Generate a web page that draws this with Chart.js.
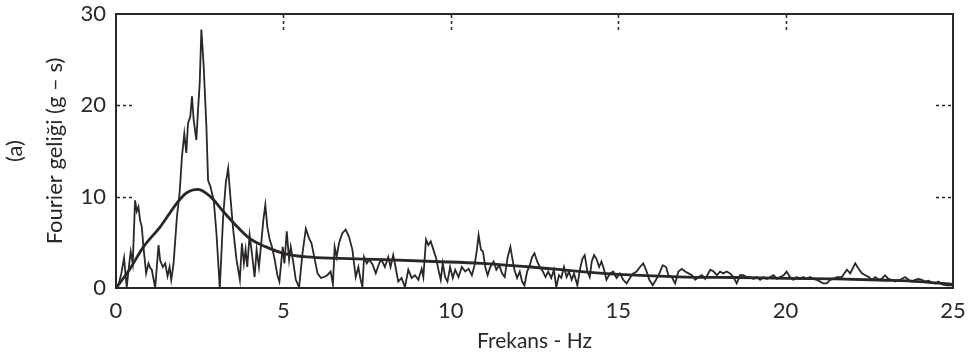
<!DOCTYPE html>
<html>
<head>
<meta charset="utf-8">
<script src="https://cdn.jsdelivr.net/npm/chart.js@4/dist/chart.umd.min.js"></script>
<style>
  html, body { margin: 0; padding: 0; background: #fff; }
  #chart { display: block; }
</style>
</head>
<body>
<canvas id="chart" width="971" height="358"></canvas>
<script>
'use strict';

// ─── Data ───────────────────────────────────────────────────────────────────
const spectrumHz = [
  0.00, 0.08, 0.16, 0.24, 0.32, 0.40, 0.44, 0.50, 0.57, 0.62, 0.67, 0.72, 0.77, 0.82, 0.90, 0.97,
  1.02, 1.07, 1.17, 1.27, 1.32, 1.40, 1.47, 1.54, 1.60, 1.65, 1.72, 1.82, 1.90, 1.97, 2.04, 2.10,
  2.15, 2.22, 2.27, 2.32, 2.40, 2.45, 2.50, 2.55, 2.62, 2.70, 2.75, 2.82, 2.92, 3.00, 3.10, 3.20,
  3.28, 3.35, 3.40, 3.50, 3.60, 3.70, 3.76, 3.82, 3.87, 3.92, 3.99, 4.06, 4.14, 4.20, 4.27, 4.32,
  4.40, 4.46, 4.52, 4.59, 4.66, 4.74, 4.82, 4.88, 4.98, 5.03, 5.10, 5.17, 5.22, 5.30, 5.37, 5.47,
  5.57, 5.67, 5.77, 5.84, 5.92, 6.02, 6.12, 6.21, 6.31, 6.41, 6.48, 6.53, 6.59, 6.66, 6.76, 6.86,
  6.96, 7.06, 7.16, 7.24, 7.29, 7.36, 7.41, 7.49, 7.56, 7.66, 7.76, 7.86, 7.93, 8.03, 8.13, 8.20,
  8.28, 8.35, 8.43, 8.53, 8.63, 8.73, 8.83, 8.93, 9.03, 9.13, 9.18, 9.26, 9.33, 9.40, 9.48, 9.56,
  9.63, 9.70, 9.76, 9.83, 9.90, 9.98, 10.06, 10.13, 10.23, 10.33, 10.43, 10.53, 10.63, 10.71, 10.78, 10.83,
  10.90, 10.96, 11.03, 11.10, 11.18, 11.28, 11.36, 11.45, 11.53, 11.61, 11.70, 11.78, 11.83, 11.90, 11.98, 12.06,
  12.13, 12.20, 12.28, 12.36, 12.43, 12.50, 12.58, 12.66, 12.75, 12.83, 12.91, 13.00, 13.08, 13.15, 13.23, 13.30,
  13.38, 13.46, 13.53, 13.61, 13.68, 13.78, 13.86, 13.93, 14.00, 14.08, 14.15, 14.21, 14.28, 14.35, 14.43, 14.50,
  14.57, 14.65, 14.76, 14.85, 14.95, 15.05, 15.15, 15.25, 15.35, 15.45, 15.55, 15.65, 15.75, 15.83, 15.93, 16.03,
  16.13, 16.23, 16.33, 16.43, 16.50, 16.60, 16.70, 16.80, 16.90, 17.00, 17.10, 17.20, 17.30, 17.40, 17.50, 17.60,
  17.75, 17.85, 17.95, 18.04, 18.14, 18.24, 18.34, 18.44, 18.54, 18.64, 18.74, 18.84, 18.94, 19.04, 19.14, 19.24,
  19.34, 19.44, 19.54, 19.64, 19.74, 19.84, 19.94, 20.03, 20.13, 20.23, 20.33, 20.43, 20.53, 20.63, 20.73, 20.83,
  20.93, 21.03, 21.13, 21.23, 21.33, 21.43, 21.53, 21.68, 21.83, 21.93, 22.08, 22.18, 22.28, 22.38, 22.48, 22.58,
  22.68, 22.78, 22.87, 22.97, 23.07, 23.17, 23.27, 23.42, 23.57, 23.67, 23.77, 23.87, 23.97, 24.07, 24.17, 24.27,
  24.37, 24.47, 24.57, 24.67, 24.82, 24.97
];
const spectrumAmp = [
  0.0, 0.4, 1.6, 3.3, 0.1, 2.8, 4.0, 2.7, 9.6, 8.4, 8.9, 7.4, 6.7, 4.5, 1.6, 2.7,
  2.2, 2.0, 0.0, 4.7, 3.0, 2.3, 2.7, 1.3, 2.3, 0.9, 2.7, 7.8, 10.4, 14.4, 16.9, 14.8,
  18.0, 18.8, 21.0, 18.4, 16.2, 19.5, 22.4, 28.3, 24.2, 17.7, 11.8, 11.1, 9.6, 6.0, 0.0, 7.8,
  11.5, 13.1, 10.7, 6.4, 3.1, 0.9, 4.9, 2.7, 4.2, 2.3, 5.8, 3.8, 1.2, 4.2, 2.3, 4.2,
  7.4, 9.1, 6.7, 5.3, 4.5, 3.1, 1.4, 0.7, 4.5, 2.7, 6.2, 3.1, 4.5, 2.7, 0.9, 0.1,
  3.8, 6.5, 5.4, 4.9, 3.4, 1.6, 1.1, 1.2, 1.4, 1.8, 0.4, 4.5, 3.4, 4.9, 6.0, 6.4,
  5.6, 4.2, 1.2, 2.3, 1.2, 0.1, 3.4, 2.7, 3.1, 2.6, 1.6, 2.7, 3.1, 2.3, 3.4, 2.3,
  3.6, 2.3, 0.7, 1.1, 0.1, 2.0, 1.1, 1.4, 0.9, 2.1, 1.2, 5.3, 4.7, 5.1, 4.2, 3.3,
  2.0, 0.9, 2.7, 1.2, 0.7, 2.3, 1.1, 2.0, 1.2, 2.3, 1.8, 2.1, 1.4, 2.5, 4.2, 5.8,
  4.2, 4.0, 2.3, 1.4, 2.3, 2.9, 2.0, 2.5, 1.6, 1.2, 3.4, 4.5, 3.4, 2.0, 1.1, 1.8,
  0.7, 0.3, 1.8, 2.5, 3.4, 3.8, 2.9, 2.3, 1.8, 1.2, 1.8, 1.1, 2.0, 0.1, 1.4, 1.1,
  2.3, 1.2, 1.8, 0.9, 1.6, 0.3, 2.1, 3.2, 3.6, 1.8, 1.2, 2.9, 3.6, 3.2, 2.3, 2.9,
  2.1, 0.9, 1.6, 1.8, 1.1, 1.6, 0.9, 0.5, 1.1, 1.6, 1.8, 2.3, 2.7, 2.0, 0.9, 0.3,
  0.9, 1.6, 2.5, 2.3, 1.4, 1.2, 0.5, 1.8, 2.1, 1.8, 1.6, 1.4, 0.9, 1.2, 1.4, 1.0,
  2.0, 1.8, 1.4, 1.8, 1.6, 1.8, 1.6, 1.2, 0.5, 1.4, 1.4, 1.2, 1.2, 1.0, 1.2, 0.9,
  1.2, 1.0, 1.2, 1.4, 1.0, 1.2, 1.4, 1.8, 1.2, 0.9, 1.2, 1.0, 1.2, 1.0, 1.2, 1.0,
  0.9, 0.7, 0.5, 0.5, 0.9, 1.0, 1.2, 1.2, 2.0, 1.6, 2.7, 2.1, 1.6, 1.4, 1.2, 0.9,
  1.2, 0.9, 1.0, 1.4, 1.0, 0.9, 0.7, 0.9, 1.2, 0.9, 0.7, 0.9, 1.0, 0.9, 0.7, 0.8,
  0.6, 0.5, 0.7, 0.4, 0.3, 0.3
];

// smoothed spectrum
const smoothHz  = [0, 0.4, 0.82, 1.32, 1.82, 2.1, 2.45, 2.82, 3.2, 3.52, 4.0, 4.48, 5.0, 5.7, 6.7, 8.0, 9.5, 10.9, 12.4, 13.9, 15.5, 17, 18.5, 20, 21.5, 23, 24, 25];
const smoothAmp = [0, 2.0, 4.5, 6.7, 9.3, 10.4, 10.8, 10.0, 8.4, 7.1, 5.4, 4.5, 3.8, 3.4, 3.25, 3.1, 2.9, 2.7, 2.3, 1.8, 1.4, 1.2, 1.15, 1.05, 1.0, 0.85, 0.7, 0.4];

const xTicks = [0, 5, 10, 15, 20, 25];
const yTicks = [0, 10, 20, 30];
const xInnerMarks = [5, 10, 15, 20];
const yInnerMarks = [10, 20];

const xTitle = 'Frekans - Hz';
const yTitle = ['(a)', 'Fourier geliği (g – s)'];

const INK = '#2b2627';
const FONT = 'Lato, "DejaVu Sans", sans-serif';

// ─── Frame + dashed inner tick marks ────────────────────────────────────────
const framePlugin = {
  id: 'frame',
  afterDatasetsDraw(chart) {
    const { ctx, chartArea: a, scales } = chart;
    ctx.save();
    ctx.strokeStyle = INK;
    ctx.lineWidth = 2;
    ctx.strokeRect(a.left, a.top, a.right - a.left, a.bottom - a.top);

    ctx.lineWidth = 1.5;
    ctx.setLineDash([3, 3]);
    const len = 17;
    yInnerMarks.forEach(v => {
      const y = Math.round(scales.y.getPixelForValue(v)) + 0.5;
      ctx.beginPath();
      ctx.moveTo(a.left + 1, y); ctx.lineTo(a.left + len, y);
      ctx.moveTo(a.right - len, y); ctx.lineTo(a.right - 1, y);
      ctx.stroke();
    });
    xInnerMarks.forEach(v => {
      const x = Math.round(scales.x.getPixelForValue(v)) + 0.5;
      ctx.beginPath();
      ctx.moveTo(x, a.top + 1); ctx.lineTo(x, a.top + len);
      ctx.stroke();
    });
    ctx.restore();
  }
};

// ─── Chart ──────────────────────────────────────────────────────────────────
new Chart(document.getElementById('chart'), {
  type: 'line',
  data: {
    datasets: [
      {
        label: 'spectrum',
        data: spectrumHz.map((f, i) => ({ x: f, y: spectrumAmp[i] })),
        borderColor: INK,
        borderWidth: 1.8,
        pointRadius: 0,
        tension: 0,
      },
      {
        label: 'smooth',
        data: smoothHz.map((f, i) => ({ x: f, y: smoothAmp[i] })),
        borderColor: INK,
        borderWidth: 2.8,
        pointRadius: 0,
        cubicInterpolationMode: 'monotone',
      }
    ]
  },
  options: {
    responsive: false,
    animation: false,
    devicePixelRatio: 1,
    layout: { padding: { left: 0, right: 18, top: 14, bottom: 0 } },
    plugins: { legend: { display: false }, tooltip: { enabled: false } },
    scales: {
      x: {
        type: 'linear',
        min: 0, max: 25,
        // fixed height; edge labels may overhang without shrinking the plot
        afterFit: s => { s.height = 70; s.paddingLeft = 0; s.paddingRight = 0; },
        afterBuildTicks: s => { s.ticks = xTicks.map(v => ({ value: v })); },
        grid: { display: false, drawTicks: false },
        border: { display: false },
        ticks: { color: INK, padding: 10, font: { family: FONT, size: 22 } },
        title: {
          display: true, text: xTitle, color: INK,
          font: { family: FONT, size: 21 }, padding: { top: 0, bottom: 4 }
        }
      },
      y: {
        min: 0, max: 30,
        afterFit: s => { s.width = 116; s.paddingTop = 0; s.paddingBottom = 0; },
        afterBuildTicks: s => { s.ticks = yTicks.map(v => ({ value: v })); },
        grid: { display: false, drawTicks: false },
        border: { display: false },
        ticks: { color: INK, padding: 10, font: { family: FONT, size: 22 } },
        title: {
          display: true, text: yTitle, color: INK,
          font: { family: FONT, size: 22, lineHeight: 1.82 }, padding: { top: -5, bottom: 0 }
        }
      }
    }
  },
  plugins: [framePlugin]
});
</script>
</body>
</html>
